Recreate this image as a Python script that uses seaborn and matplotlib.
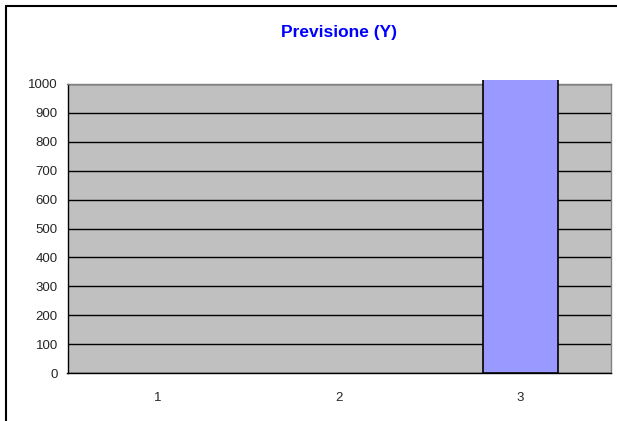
import matplotlib
matplotlib.use("Agg")
import matplotlib.pyplot as plt
from matplotlib.lines import Line2D
from matplotlib.transforms import Bbox, TransformedBbox
import seaborn as sns
import pandas as pd

categories = ["1", "2", "3"]
values = [0, 0, 1030]
y_ticks = [0, 100, 200, 300, 400, 500, 600, 700, 800, 900, 1000]
title = "Previsione (Y)"

sns.set_style("white")
plt.rcParams["font.family"] = ["Liberation Sans", "DejaVu Sans"]

W, H = 617, 421
fig = plt.figure(figsize=(W / 100, H / 100), dpi=100)
fig.patch.set_facecolor("white")

left, right, top, bottom = 67.5, 611, 84, 373
ax = fig.add_axes([left / W, 1 - bottom / H, (right - left) / W, (bottom - top) / H])
ax.set_facecolor("#C0C0C0")

df = pd.DataFrame({"cat": categories, "val": values})
sns.barplot(data=df, x="cat", y="val", ax=ax, color="#9999FF", width=0.41,
            edgecolor="black", linewidth=1.2, saturation=1)

# bars may run a few pixels past the top of the plot area, then get cut off
clip_box = TransformedBbox(Bbox([[0, 0], [1, 1.0 + 4.0 / (bottom - top)]]), ax.transAxes)
for p in ax.patches:
    p.set_clip_box(clip_box)
    p.set_zorder(3)
    if p.get_height() == 0:
        p.set_linewidth(0)

ax.set_xlim(-0.5, len(categories) - 0.5)
ax.set_ylim(0, 1000)
ax.set_yticks(y_ticks)
ax.set_yticklabels([str(t) for t in y_ticks], fontsize=9.5)

# category boundaries as major ticks, labels centred on minor ticks
ax.set_xticks([i - 0.5 for i in range(len(categories) + 1)])
ax.set_xticklabels([])
ax.set_xticks(range(len(categories)), minor=True)
ax.set_xticklabels(categories, minor=True, fontsize=9.5)
ax.tick_params(axis="x", which="major", direction="out", length=4, width=1, color="black")
ax.tick_params(axis="x", which="minor", length=0, pad=13.5)
ax.tick_params(axis="y", direction="out", length=4, width=1, color="black", pad=3)
ax.set_xlabel("")
ax.set_ylabel("")

ax.yaxis.grid(True, color="black", linewidth=1.0)
ax.set_axisbelow(True)

for s in ("left", "bottom"):
    ax.spines[s].set_color("black")
    ax.spines[s].set_linewidth(1.0)
for s in ("top", "right"):
    ax.spines[s].set_color("#808080")
    ax.spines[s].set_linewidth(1.0)

fig.text((left + right) / 2 / W, 1 - 32 / H, title, ha="center", va="center",
         color="#0000FF", fontsize=12.5, fontweight="bold")

# chart frame (left and top edges)
fig.add_artist(Line2D([5.5 / W, 5.5 / W], [0, 1 - 5.5 / H], color="black", linewidth=1.5,
                      transform=fig.transFigure))
fig.add_artist(Line2D([5.5 / W, 1], [1 - 5.5 / H, 1 - 5.5 / H], color="black", linewidth=1.5,
                      transform=fig.transFigure))

fig.savefig("out.png", dpi=100)
